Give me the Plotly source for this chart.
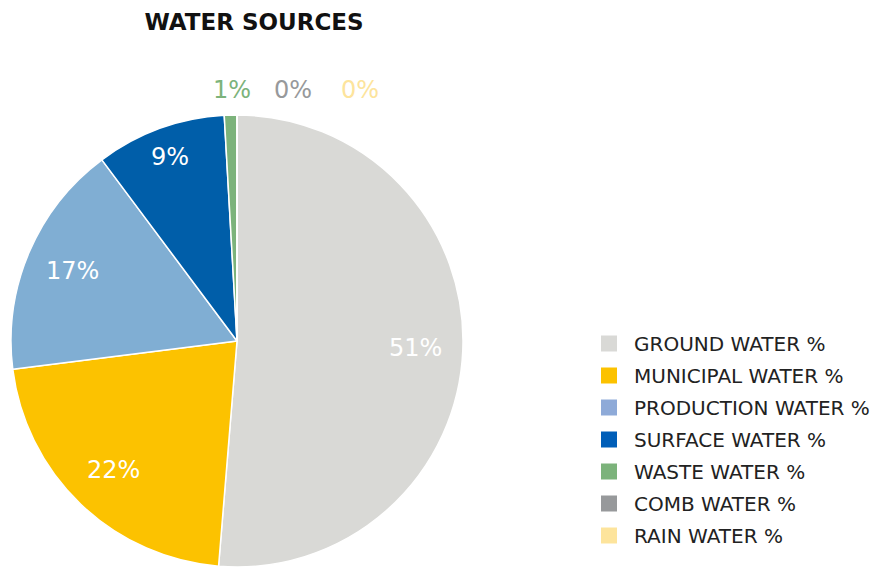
import math
import plotly.graph_objects as go

# Water source shares (percent of total)
sources = ["GROUND WATER %", "MUNICIPAL WATER %", "PRODUCTION WATER %",
           "SURFACE WATER %", "WASTE WATER %", "COMB WATER %", "RAIN WATER %"]
shares = [51.3, 21.7, 16.8, 9.3, 0.9, 0.0, 0.0]
colors = ["#d9d9d6", "#fcc200", "#80aed3", "#005ea9", "#7cb37b", "#97999b", "#fde49c"]
legend_colors = ["#d9d9d6", "#fcc200", "#8eaad8", "#005eb8", "#7cb37b", "#97999b", "#fde49c"]

W, H = 881, 567
cx, R = 237, 226
LABEL_FONT = "DejaVu Sans"

total = sum(shares)
pct = [f"{round(v / total * 100)}%" for v in shares]
inside = [v / total >= 0.05 for v in shares]

# pie domain (pixels -> paper); the pie sits on the bottom edge of the page
dom_x = [(cx - R) / W, (cx + R) / W]
dom_y = [0, 2 * R / H]
pcx, pcy = cx, H - R  # pie centre in page pixels (y downward)

fig = go.Figure()
fig.add_trace(go.Pie(
    labels=sources,
    values=shares,
    sort=False,
    direction="clockwise",
    rotation=0,
    marker=dict(colors=colors, line=dict(color="white", width=1.5)),
    textinfo="none",
    showlegend=False,
    hoverinfo="label+percent",
    domain=dict(x=dom_x, y=dom_y),
))

# Slice labels placed along each slice's mid-angle
cum = 0.0
for i, v in enumerate(shares):
    frac = v / total
    mid = (cum + v / 2) / total * 2 * math.pi
    cum += v
    if not inside[i]:
        continue
    # narrow slices push their label a little further out
    r = (0.79 + 0.08 * max(0.0, 0.15 - frac) / 0.06) * R
    px = pcx + r * math.sin(mid)
    py = pcy - r * math.cos(mid)
    fig.add_annotation(
        x=px / W, y=(H - py) / H, xref="paper", yref="paper",
        text=pct[i], showarrow=False,
        font=dict(family=LABEL_FONT, size=24, color="white"),
        xanchor="center", yanchor="middle",
    )

# Labels for the slivers, spread in a row over the top of the pie
small_x = [232, 293, 360]
small = [i for i, f in enumerate(inside) if not f]
for xpix, i in zip(small_x, small):
    fig.add_annotation(
        x=xpix / W, y=(H - 90) / H, xref="paper", yref="paper",
        text=pct[i], showarrow=False,
        font=dict(family=LABEL_FONT, size=24, color=colors[i]),
        xanchor="center", yanchor="middle",
    )

# Legend entries, one group per source so the row spacing can be set
for i, name in enumerate(sources):
    fig.add_trace(go.Scatter(
        x=[None], y=[None], mode="markers", name=name,
        legendgroup=f"g{i}",
        marker=dict(symbol="square", size=16, color=legend_colors[i],
                    line=dict(width=0)),
        hoverinfo="skip",
    ))

fig.update_layout(
    width=W, height=H,
    margin=dict(l=0, r=0, t=0, b=0),
    paper_bgcolor="white",
    plot_bgcolor="white",
    xaxis=dict(visible=False),
    yaxis=dict(visible=False),
    title=dict(text="<b>WATER SOURCES</b>", x=254 / W, xanchor="center",
               y=(H - 22) / H, yanchor="middle",
               font=dict(family="DejaVu Sans", size=23, color="#111111")),
    legend=dict(x=584 / W, y=(H - 324) / H, xanchor="left", yanchor="top",
                font=dict(family="DejaVu Sans", size=20, color="#222222"),
                itemwidth=40, traceorder="grouped", tracegroupgap=3),
)

fig.write_html("out.html")
